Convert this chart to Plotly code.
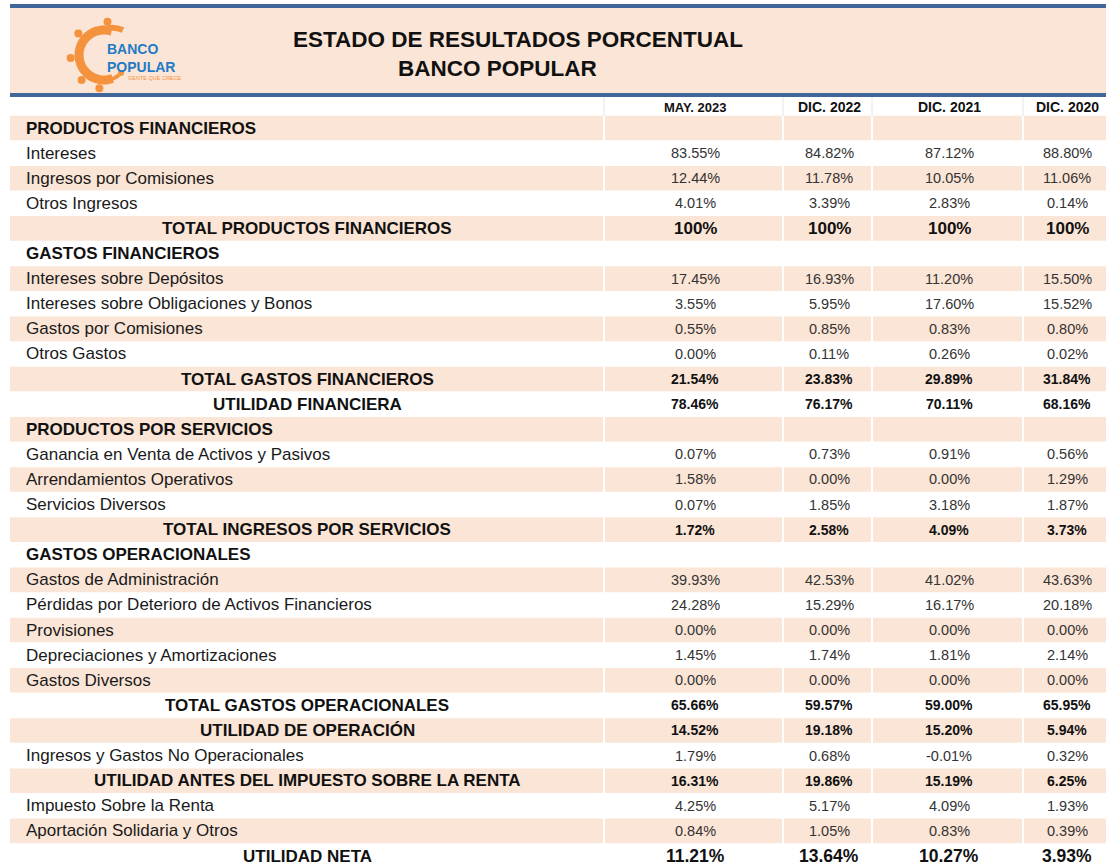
import numpy as np
import plotly.graph_objects as go

# ---------------- data ----------------
title_line1 = "ESTADO DE RESULTADOS PORCENTUAL"
title_line2 = "BANCO POPULAR"
periods = ["MAY. 2023", "DIC. 2022", "DIC. 2021", "DIC. 2020"]

labels = [
    "PRODUCTOS FINANCIEROS",
    "Intereses",
    "Ingresos por Comisiones",
    "Otros Ingresos",
    "TOTAL PRODUCTOS FINANCIEROS",
    "GASTOS FINANCIEROS",
    "Intereses sobre Depósitos",
    "Intereses sobre Obligaciones y Bonos",
    "Gastos por Comisiones",
    "Otros Gastos",
    "TOTAL GASTOS FINANCIEROS",
    "UTILIDAD FINANCIERA",
    "PRODUCTOS POR SERVICIOS",
    "Ganancia en Venta de Activos y Pasivos",
    "Arrendamientos Operativos",
    "Servicios Diversos",
    "TOTAL INGRESOS POR SERVICIOS",
    "GASTOS OPERACIONALES",
    "Gastos de Administración",
    "Pérdidas por Deterioro de Activos Financieros",
    "Provisiones",
    "Depreciaciones y Amortizaciones",
    "Gastos Diversos",
    "TOTAL GASTOS OPERACIONALES",
    "UTILIDAD DE OPERACIÓN",
    "Ingresos y Gastos No Operacionales",
    "UTILIDAD ANTES DEL IMPUESTO SOBRE LA RENTA",
    "Impuesto Sobre la Renta",
    "Aportación Solidaria y Otros",
    "UTILIDAD NETA",
]

# section = bold left header, item = plain row, total = bold centred row, net = final row
row_kind = [
    "section", "item", "item", "item", "total",
    "section", "item", "item", "item", "item", "total", "total",
    "section", "item", "item", "item", "total",
    "section", "item", "item", "item", "item", "item", "total", "total",
    "item", "total", "item", "item", "net",
]

may_2023 = [None, 83.55, 12.44, 4.01, 100, None, 17.45, 3.55, 0.55, 0.00, 21.54, 78.46,
            None, 0.07, 1.58, 0.07, 1.72, None, 39.93, 24.28, 0.00, 1.45, 0.00, 65.66, 14.52,
            1.79, 16.31, 4.25, 0.84, 11.21]
dic_2022 = [None, 84.82, 11.78, 3.39, 100, None, 16.93, 5.95, 0.85, 0.11, 23.83, 76.17,
            None, 0.73, 0.00, 1.85, 2.58, None, 42.53, 15.29, 0.00, 1.74, 0.00, 59.57, 19.18,
            0.68, 19.86, 5.17, 1.05, 13.64]
dic_2021 = [None, 87.12, 10.05, 2.83, 100, None, 11.20, 17.60, 0.83, 0.26, 29.89, 70.11,
            None, 0.91, 0.00, 3.18, 4.09, None, 41.02, 16.17, 0.00, 1.81, 0.00, 59.00, 15.20,
            -0.01, 15.19, 4.09, 0.83, 10.27]
dic_2020 = [None, 88.80, 11.06, 0.14, 100, None, 15.50, 15.52, 0.80, 0.02, 31.84, 68.16,
            None, 0.56, 1.29, 1.87, 3.73, None, 43.63, 20.18, 0.00, 2.14, 0.00, 65.95, 5.94,
            0.32, 6.25, 1.93, 0.39, 3.93]
series = [may_2023, dic_2022, dic_2021, dic_2020]

# ---------------- styling / layout constants ----------------
W, H = 1106, 868
PEACH = "#fbe5d6"
BLUE = "#41669a"
ORANGE = "#f5923e"
LOGO_BLUE = "#1f7bc6"
FONT = "Liberation Sans, Arial, sans-serif"

row_y0 = 128.0
row_pitch = (856.0 - 128.0) / 29.0
row_half = 12.3
col_segments = [(10, 603), (605, 782), (784, 871), (873, 1022), (1024, W)]
col_centers = [695, 829, 949, 1067]
label_left = 24
total_center = 307

fig = go.Figure()
# invisible trace to anchor axes
fig.add_trace(go.Scatter(x=[0, W], y=[0, H], mode="markers",
                         marker=dict(opacity=0), hoverinfo="skip", showlegend=False))

shapes = []
annotations = []

# Banner
shapes.append(dict(type="rect", xref="x", yref="y", x0=10, x1=W, y0=8, y1=93,
                   fillcolor=PEACH, line=dict(width=0), layer="below"))
shapes.append(dict(type="rect", xref="x", yref="y", x0=10, x1=W, y0=4, y1=8,
                   fillcolor=BLUE, line=dict(width=0), layer="below"))
shapes.append(dict(type="rect", xref="x", yref="y", x0=10, x1=W, y0=93, y1=97,
                   fillcolor=BLUE, line=dict(width=0), layer="below"))

# Title
annotations.append(dict(x=518, y=39, xref="x", yref="y", text="<b>" + title_line1 + "</b>",
                        showarrow=False, xanchor="center", yanchor="middle",
                        font=dict(family=FONT, size=22.5, color="#111")))
annotations.append(dict(x=497, y=68, xref="x", yref="y", text="<b>" + title_line2 + "</b>",
                        showarrow=False, xanchor="center", yanchor="middle",
                        font=dict(family=FONT, size=22.5, color="#111")))

# Logo (decorative): thick orange ring of figures + wordmark
cx, cy, rr = 104, 55, 25
arc = np.deg2rad(np.linspace(72, 290, 30))
pts = [(cx + rr * np.cos(a), cy - rr * np.sin(a)) for a in arc]
path = "M " + " L ".join(f"{x:.1f},{y:.1f}" for x, y in pts)
shapes.append(dict(type="path", xref="x", yref="y", path=path,
                   line=dict(color=ORANGE, width=9)))
shapes.append(dict(type="path", xref="x", yref="y",
                   path="M 100,31 Q 111,25 123,30", line=dict(color=ORANGE, width=6)))
shapes.append(dict(type="path", xref="x", yref="y",
                   path="M 106,80 Q 113,80 119,75", line=dict(color=ORANGE, width=4)))
for a in np.deg2rad([84, 140, 185, 228, 262]):
    px = cx + (rr + 8.5) * np.cos(a)
    py = cy - (rr + 8.5) * np.sin(a)
    shapes.append(dict(type="circle", xref="x", yref="y", x0=px - 4, x1=px + 4,
                       y0=py - 4, y1=py + 4, fillcolor=ORANGE, line=dict(width=0)))
shapes.append(dict(type="circle", xref="x", yref="y", x0=118, x1=124, y0=70, y1=76,
                   fillcolor=ORANGE, line=dict(width=0)))
annotations.append(dict(x=105, y=57.5, xref="x", yref="y", text="<b>BANCO<br>POPULAR</b>",
                        showarrow=False, xanchor="left", yanchor="middle", align="left",
                        font=dict(family=FONT, size=14, color=LOGO_BLUE)))
annotations.append(dict(x=126, y=78, xref="x", yref="y", text="GENTE QUE CRECE", showarrow=False,
                        xanchor="left", yanchor="middle",
                        font=dict(family=FONT, size=5.5, color=ORANGE)))

# Column headers
for j, p in enumerate(periods):
    annotations.append(dict(x=col_centers[j], y=107, xref="x", yref="y", text="<b>" + p + "</b>",
                            showarrow=False, xanchor="center", yanchor="middle",
                            font=dict(family=FONT, size=13 if j == 0 else 14, color="#111")))
for xd in [604, 783, 872, 1023]:
    shapes.append(dict(type="line", xref="x", yref="y", x0=xd, x1=xd, y0=97, y1=116,
                       line=dict(color="#e4e4e4", width=1)))

# Rows
for i, (lab, kind) in enumerate(zip(labels, row_kind)):
    yc = row_y0 + i * row_pitch
    if i % 2 == 0:
        for (a, b) in col_segments:
            shapes.append(dict(type="rect", xref="x", yref="y", x0=a, x1=b,
                               y0=yc - row_half, y1=yc + row_half,
                               fillcolor=PEACH, line=dict(width=0), layer="below"))
    if kind == "section":
        annotations.append(dict(x=label_left, y=yc, xref="x", yref="y", text="<b>" + lab + "</b>",
                                showarrow=False, xanchor="left", yanchor="middle",
                                font=dict(family=FONT, size=17, color="#111")))
    elif kind == "item":
        annotations.append(dict(x=label_left, y=yc, xref="x", yref="y", text=lab,
                                showarrow=False, xanchor="left", yanchor="middle",
                                font=dict(family=FONT, size=17, color="#1a1a1a")))
    else:
        annotations.append(dict(x=total_center, y=yc, xref="x", yref="y", text="<b>" + lab + "</b>",
                                showarrow=False, xanchor="center", yanchor="middle",
                                font=dict(family=FONT, size=17, color="#111")))
    for j, s in enumerate(series):
        v = s[i]
        if v is None:
            continue
        if v == 100:
            txt, size, bold = "100%", 17, True
        else:
            txt = f"{v:.2f}%"
            if kind == "net":
                size, bold = 17.5, True
            elif kind == "total":
                size, bold = 14, True
            else:
                size, bold = 14.5, False
        annotations.append(dict(x=col_centers[j], y=yc, xref="x", yref="y",
                                text=("<b>" + txt + "</b>") if bold else txt,
                                showarrow=False, xanchor="center", yanchor="middle",
                                font=dict(family=FONT, size=size,
                                          color="#111" if bold else "#333")))

fig.update_layout(
    width=W, height=H,
    margin=dict(l=0, r=0, t=0, b=0),
    paper_bgcolor="white", plot_bgcolor="white",
    xaxis=dict(range=[0, W], visible=False, fixedrange=True),
    yaxis=dict(range=[H, 0], visible=False, fixedrange=True),
    shapes=shapes, annotations=annotations, showlegend=False,
)

fig.write_html("out.html", post_script="document.body.style.margin='0';",
               config={"displayModeBar": False})
